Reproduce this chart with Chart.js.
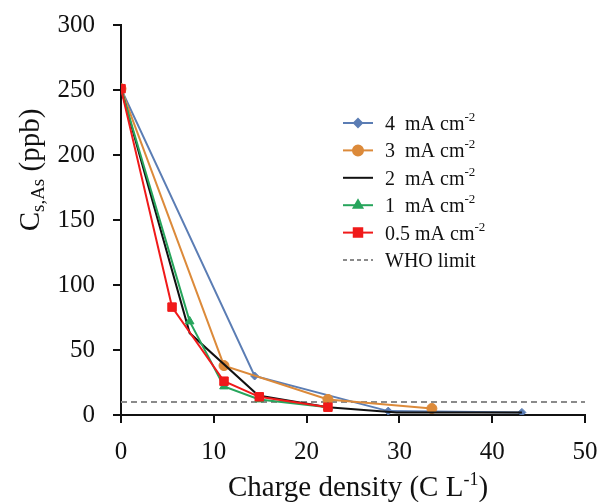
<!DOCTYPE html>
<html>
<head>
<meta charset="utf-8">
<script src="https://cdn.jsdelivr.net/npm/chart.js@4"></script>
<style>
  html, body { margin: 0; padding: 0; background: #fff; }
  #wrap { width: 602px; height: 502px; }
</style>
</head>
<body>
<div id="wrap"><canvas id="asChart" width="602" height="502"></canvas></div>
<script>
// values
const x4 = [0, 14.4, 28.8, 43.2];
const y4 = [251, 30, 3, 2];
const x3 = [0, 11.1, 22.3, 33.5];
const y3 = [251, 38, 12, 5];
const x2 = [0, 7.4, 14.8, 22.3, 29.7, 43.2];
const y2 = [251, 63, 15, 6, 2, 2];
const x1 = [0, 7.4, 11.1, 14.9, 22.3];
const y1 = [251, 72, 22, 12, 6];
const x05 = [0, 5.5, 11.1, 14.9, 22.3];
const y05 = [251, 83, 26, 14, 6];
const whoX = [0, 50];
const whoLimit = 10;

const xTicks = [0, 10, 20, 30, 40, 50];
const yTicks = [0, 50, 100, 150, 200, 250, 300];

const SERIF = '"Liberation Serif", "Times New Roman", serif';

function pts(xs, ys) {
  return xs.map((x, i) => ({ x: x, y: ys[i] }));
}

const series = [
  { label: '4  mA cm', sup: '-2', xs: x4, ys: y4, color: '#5b7db4', style: 'rectRot', r: 4, order: 5 },
  { label: '3  mA cm', sup: '-2', xs: x3, ys: y3, color: '#dc8a3a', style: 'circle', r: 5, order: 4 },
  { label: '2  mA cm', sup: '-2', xs: x2, ys: y2, color: '#111111', style: false, r: 0, order: 3 },
  { label: '1  mA cm', sup: '-2', xs: x1, ys: y1, color: '#27a55c', style: 'triangle', r: 5, order: 2 },
  { label: '0.5 mA cm', sup: '-2', xs: x05, ys: y05, color: '#f01a1a', style: 'rect', r: 6, order: 1 }
];

const datasets = series.map(s => ({
  label: s.label + s.sup,
  data: pts(s.xs, s.ys),
  showLine: true,
  borderColor: s.color,
  backgroundColor: s.color,
  borderWidth: 2,
  pointStyle: s.style,
  pointRadius: s.r,
  pointBorderWidth: 1,
  order: s.order
}));

datasets.push({
  label: 'WHO limit',
  data: whoX.map(x => ({ x: x, y: whoLimit })),
  showLine: true,
  borderColor: '#8a8a8a',
  borderWidth: 2,
  borderDash: [6, 4],
  pointRadius: 0,
  order: 6
});

// draws text pieces with super/subscripts
function drawRich(ctx, parts, x, y, align) {
  let total = 0;
  parts.forEach(p => {
    ctx.font = p.size + 'px ' + SERIF;
    p.w = ctx.measureText(p.t).width;
    total += p.w;
  });
  let cx = align === 'center' ? x - total / 2 : x;
  parts.forEach(p => {
    ctx.font = p.size + 'px ' + SERIF;
    ctx.fillText(p.t, cx, y + (p.dy || 0));
    cx += p.w;
  });
}

const extras = {
  id: 'extras',
  afterDraw(chart) {
    const ctx = chart.ctx;
    ctx.save();
    ctx.fillStyle = '#111';
    ctx.textBaseline = 'alphabetic';

    // x axis title
    drawRich(ctx, [
      { t: 'Charge density (C L', size: 29 },
      { t: '-1', size: 18, dy: -11 },
      { t: ')', size: 29 }
    ], 358, 496, 'center');

    // y axis title
    ctx.save();
    ctx.translate(30, 170);
    ctx.rotate(-Math.PI / 2);
    drawRich(ctx, [
      { t: 'C', size: 29 },
      { t: 's,As', size: 19, dy: 5 },
      { t: ' (ppb)', size: 29 }
    ], 0, 9, 'center');
    ctx.restore();

    // legend
    const lx = 343, lw = 30, tx = 385;
    let ly = 123;
    const rowH = 27.4;
    series.forEach(s => {
      ctx.strokeStyle = s.color;
      ctx.lineWidth = 2;
      ctx.setLineDash([]);
      ctx.beginPath();
      ctx.moveTo(lx, ly);
      ctx.lineTo(lx + lw, ly);
      ctx.stroke();
      if (s.style) {
        ctx.fillStyle = s.color;
        Chart.helpers.drawPoint(ctx, {
          pointStyle: s.style, radius: s.r, rotation: 0, borderWidth: 1
        }, lx + lw / 2, ly);
      }
      ctx.fillStyle = '#111';
      drawRich(ctx, [
        { t: s.label, size: 20 },
        { t: s.sup, size: 13, dy: -9 }
      ], tx, ly + 7, 'left');
      ly += rowH;
    });
    ctx.strokeStyle = '#8a8a8a';
    ctx.lineWidth = 2;
    ctx.setLineDash([4, 3]);
    ctx.beginPath();
    ctx.moveTo(lx, ly);
    ctx.lineTo(lx + lw, ly);
    ctx.stroke();
    ctx.setLineDash([]);
    ctx.fillStyle = '#111';
    drawRich(ctx, [{ t: 'WHO limit', size: 20 }], tx, ly + 7, 'left');

    ctx.restore();
  }
};

new Chart(document.getElementById('asChart'), {
  type: 'scatter',
  data: { datasets: datasets },
  options: {
    responsive: false,
    animation: false,
    layout: { padding: { top: 25, right: 17, left: 0, bottom: 0 } },
    plugins: {
      legend: { display: false },
      tooltip: { enabled: false }
    },
    scales: {
      x: {
        type: 'linear',
        min: 0,
        max: 50,
        afterBuildTicks: (scale) => { scale.ticks = xTicks.map(v => ({ value: v })); },
        afterFit: (scale) => {
          scale.height = 87;
          scale.paddingLeft = 0;
          scale.paddingRight = 0;
        },
        border: { color: '#111', width: 2 },
        grid: { drawOnChartArea: false, drawTicks: true, tickLength: 8, color: '#111', lineWidth: 2 },
        ticks: { color: '#111', padding: 14, maxRotation: 0, font: { family: SERIF, size: 25 } }
      },
      y: {
        type: 'linear',
        min: 0,
        max: 300,
        afterBuildTicks: (scale) => { scale.ticks = yTicks.map(v => ({ value: v })); },
        afterFit: (scale) => {
          scale.width = 121;
          scale.paddingTop = 0;
          scale.paddingBottom = 0;
        },
        border: { color: '#111', width: 2 },
        grid: { drawOnChartArea: false, drawTicks: true, tickLength: 8, color: '#111', lineWidth: 2 },
        ticks: { color: '#111', padding: 18, font: { family: SERIF, size: 25 } }
      }
    }
  },
  plugins: [extras]
});
</script>
</body>
</html>
